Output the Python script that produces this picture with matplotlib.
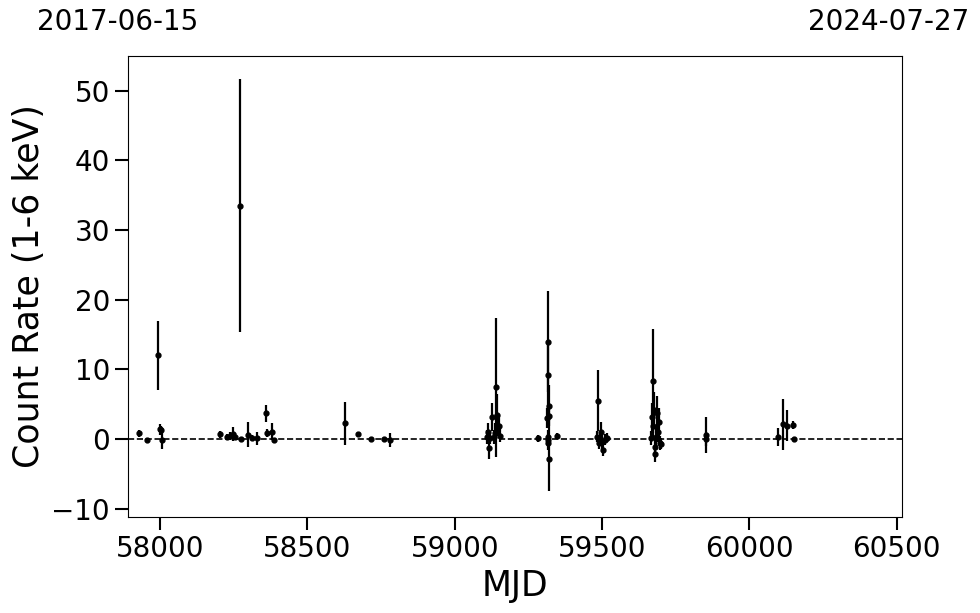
import numpy as np
from matplotlib import pyplot as plt

# 光变曲线数据 (MJD, count rate, error)
mjd = [57929, 57957, 57993, 58000, 58003, 58008,
       58203, 58228, 58237, 58247, 58254, 58271, 58275, 58300, 58311, 58328, 58360, 58362, 58379, 58387,
       58629, 58673, 58716, 58761, 58780,
       59109, 59112, 59116, 59118, 59126, 59133, 59136, 59140, 59142, 59150, 59153,
       59283, 59314, 59315, 59316, 59317, 59317, 59318, 59319, 59320, 59321, 59348,
       59483, 59487, 59490, 59493, 59496, 59499, 59503, 59510, 59517,
       59667, 59669, 59672, 59674, 59677, 59680, 59681, 59683, 59686, 59691, 59693, 59696, 59701,
       59852, 59853,
       60097, 60114, 60128, 60148, 60150]
rate = [0.8, -0.1, 12.0, 1.4, 1.3, -0.1,
        0.7, 0.25, 0.4, 0.7, 0.3, 33.5, 0.0, 0.6, 0.2, 0.1, 3.7, 0.9, 1.05, -0.2,
        2.25, 0.7, 0.0, 0.0, -0.1,
        0.3, 1.05, -1.3, 0.1, 3.2, 0.3, 0.8, 7.4, 3.5, 1.9, 0.5,
        0.1, 3.0, 0.3, -0.15, 14.0, 9.2, -0.6, -2.9, 4.7, 3.3, 0.5,
        0.3, 5.5, -0.6, 0.1, 1.0, -0.4, -1.6, -0.1, 0.2,
        0.1, 3.2, 8.3, 1.8, 4.2, -1.1, -2.1, 0.3, 3.7, 1.05, 2.5, -0.6, -0.7,
        0.6, 0.0,
        0.25, 2.1, 1.9, 2.0, 0.0]
err = [0.5, 0.3, 5.0, 0.8, 0.6, 1.4,
       0.5, 0.4, 0.6, 1.0, 0.5, 18.2, 0.3, 1.8, 0.4, 0.9, 1.2, 0.6, 1.2, 0.4,
       3.1, 0.3, 0.3, 0.3, 1.0,
       1.0, 1.2, 1.5, 0.8, 2.0, 1.0, 1.5, 10.0, 3.0, 1.5, 1.0,
       0.5, 1.4, 1.0, 0.8, 7.2, 5.0, 1.0, 4.6, 3.0, 1.4, 0.4,
       0.8, 4.4, 0.8, 0.8, 1.5, 1.0, 0.8, 0.8, 0.6,
       1.0, 2.0, 7.5, 2.0, 2.5, 1.2, 1.2, 1.5, 2.5, 1.5, 2.0, 1.0, 0.8,
       2.6, 1.0,
       1.3, 3.7, 2.2, 0.6, 0.3]

fig = plt.figure(figsize=(9.8, 6.13), dpi=100)
ax = fig.add_axes([0.1306, 0.1566, 0.7898, 0.752])
ax.errorbar(mjd, rate, yerr=err, fmt='o', color='k', markersize=3.5, elinewidth=1.6, capsize=0)
ax.axhline(0, color='k', linestyle='--', linewidth=1.2)
ax.set_xlim(57891, 60518)
ax.set_ylim(-11.2, 55)
ax.set_yticks([-10, 0, 10, 20, 30, 40, 50])
ax.set_xticks([58000, 58500, 59000, 59500, 60000, 60500])
ax.tick_params(labelsize=20, length=9.5, width=1.5)
ax.set_xlabel('MJD', fontsize=25)
ax.set_ylabel('Count Rate (1-6 keV)', fontsize=25)
fig.text(118/980, 1-22/613, '2017-06-15', fontsize=20, ha='center', va='center')
fig.text(889/980, 1-22/613, '2024-07-27', fontsize=20, ha='center', va='center')
fig.savefig('out.png', dpi=100)
